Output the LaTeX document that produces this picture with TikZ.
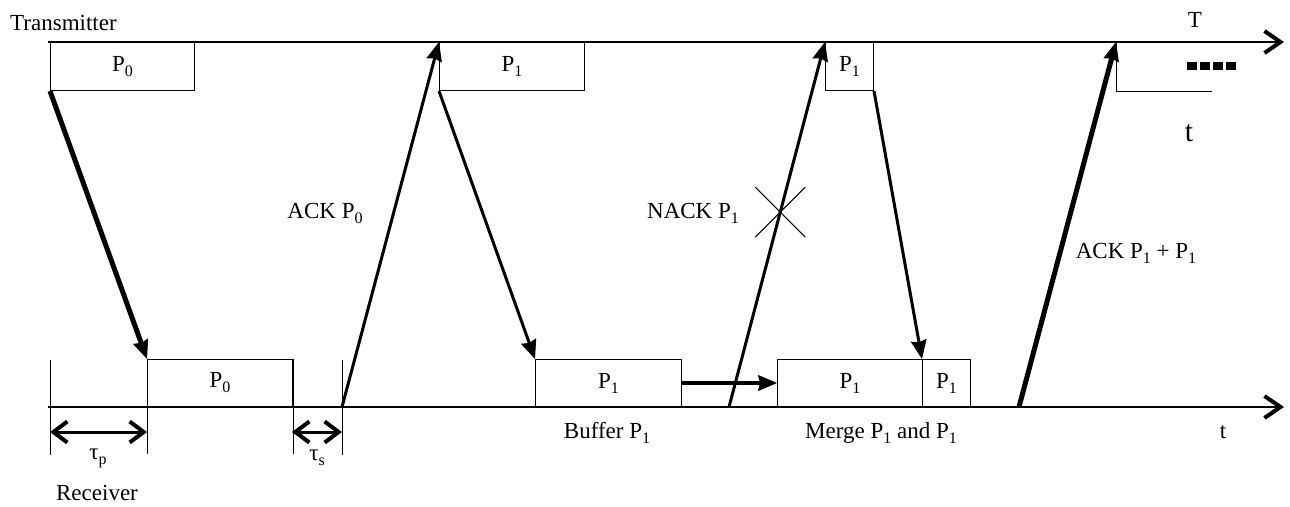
\documentclass[tikz,border=0pt]{standalone}
\usepackage{fontspec}
\setmainfont{Liberation Serif}
\usetikzlibrary{arrows.meta}
\newcommand{\sbs}[1]{\raisebox{-5pt}{\fontsize{16}{16}\selectfont #1}}

\begin{document}
\begin{tikzpicture}[x=1pt, y=-1pt,
	every node/.style={font=\fontsize{23}{26}\selectfont, inner sep=0pt},
	pkt/.style={draw, line width=1pt, minimum height=48pt},
	axis/.style={line width=2.5pt, -{Straight Barb[length=16pt,width=22pt,line width=4pt]}},
	msg/.style={line width=3pt, -{Stealth[length=19pt,width=16pt,inset=2pt,line width=1pt]}},
	bigmsg/.style={msg, line width=5pt},
	dim/.style={line width=3pt, {Straight Barb[length=14pt,width=21pt,line width=4pt]}-{Straight Barb[length=14pt,width=21pt,line width=4pt]}},
	tick/.style={line width=1pt}]
	\useasboundingbox (0,0) rectangle (1290,506);
	% time axes
	\coordinate (tstart) at (48,42);
	\coordinate (tend) at (1284,42);
	\coordinate (rstart) at (48,407);
	\coordinate (rend) at (1284,407);
	\draw[axis] (tstart) -- (tend);
	\draw[axis] (rstart) -- (rend);
	\node[anchor=west] (trans) at (10,23) {Transmitter};
	\node (tlabel) at (1195,20) {T};
	\node[font=\fontsize{30}{32}\selectfont] (tcont) at (1189,133) {t};
	\node (rlabel) at (1223,432) {t};
	\node (recv) at (97,493) {Receiver};
	% transmitted packets
	\node[pkt, minimum width=144pt, anchor=north west] (tx0) at (50,42) {P\sbs{0}};
	\node[pkt, minimum width=145pt, anchor=north west] (tx1) at (439,42) {P\sbs{1}};
	\node[pkt, minimum width=48pt, anchor=north west] (tx2) at (825,42) {P\sbs{1}};
	\coordinate (tx3) at (1116,42);
	\draw[tick] (tx3) -- ++(0,49) -- ++(96,0);
	\draw[line width=8pt, dash pattern=on 10pt off 3pt] (1187,66) -- (1237,66);
	% received packets
	\node[pkt, minimum width=145pt, minimum height=47pt, anchor=south west] (rx0) at (147,407) {P\sbs{0}};
	\node[pkt, minimum width=146pt, minimum height=47pt, anchor=south west] (rx1) at (535,407) {P\sbs{1}};
	\node[pkt, minimum width=145pt, minimum height=47pt, anchor=south west] (rx2) at (777,407) {P\sbs{1}};
	\node[pkt, minimum width=48pt, minimum height=47pt, anchor=south west] (rx3) at (922,407) {P\sbs{1}};
	\node (buf) at (607,433) {Buffer P\sbs{1}};
	\node (merge) at (881,433) {Merge P\sbs{1} and P\sbs{1}};
	% messages
	\coordinate (ack0) at (342,407);
	\coordinate (nack) at (729,407);
	\coordinate (ack1) at (1019,407);
	\draw[bigmsg] (tx0.south west) -- (rx0.north west);
	\draw[msg] (ack0) -- (tx1.north west);
	\draw[msg] (tx1.south west) -- (rx1.north west);
	\draw[msg] (nack) -- coordinate[pos=0.534] (lost) (tx2.north west);
	\draw[msg] (tx2.south east) -- (rx3.north west);
	\draw[bigmsg] (ack1) -- (tx3);
	\draw[msg, line width=4pt] (rx1.east) -- (rx2.west);
	\draw[tick] ([shift={(-25,-25)}]lost) -- ([shift={(25,25)}]lost);
	\draw[tick] ([shift={(-25,25)}]lost) -- ([shift={(25,-25)}]lost);
	\node (ack0lbl) at (325,213) {ACK P\sbs{0}};
	\node (nacklbl) at (693,213) {NACK P\sbs{1}};
	\node (ack1lbl) at (1136,253) {ACK P\sbs{1} + P\sbs{1}};
	% delays
	\coordinate (tp0) at (50,360);
	\coordinate (ts1) at (342,360);
	\draw[tick] (tp0) -- ++(0,95);
	\draw[tick] (rx0.north west) -- ++(0,95);
	\draw[tick] (rx0.north east) -- ++(0,95);
	\draw[tick] (ts1) -- ++(0,95);
	\coordinate (tpa) at (50,432);
	\coordinate (tpb) at (147,432);
	\coordinate (tsa) at (292,432);
	\coordinate (tsb) at (342,432);
	\draw[dim] (tpa) -- (tpb);
	\draw[dim] (tsa) -- (tsb);
	\node (taup) at (98,458) {τ\sbs{p}};
	\node (taus) at (317,458) {τ\sbs{s}};
\end{tikzpicture}
\end{document}
